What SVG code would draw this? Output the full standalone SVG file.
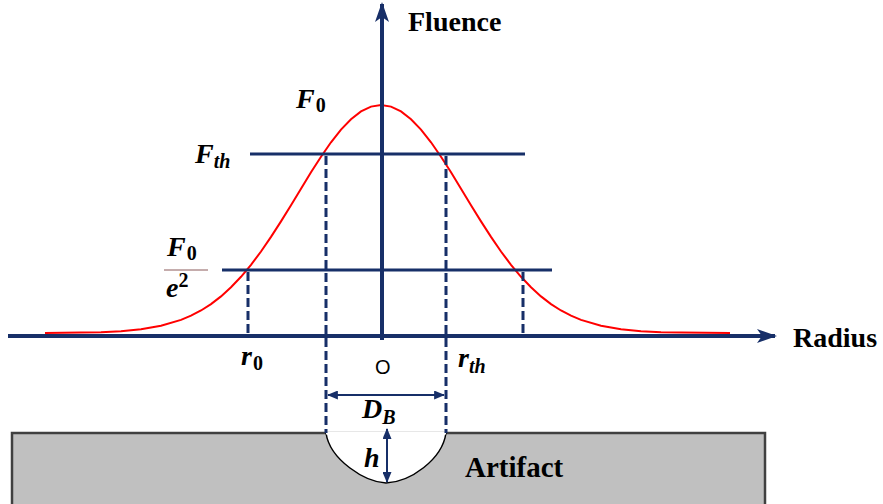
<svg xmlns="http://www.w3.org/2000/svg" width="883" height="504" viewBox="0 0 883 504">
<defs>
<marker id="bigArrow" viewBox="0 0 20 14" refX="18" refY="7" markerWidth="20" markerHeight="14" markerUnits="userSpaceOnUse" orient="auto">
<path d="M0,0 L20,7 L0,14 L5,7 Z" fill="#172f68"/>
</marker>
<marker id="smallArrow" viewBox="0 0 12 10" refX="11" refY="5" markerWidth="11" markerHeight="9" markerUnits="userSpaceOnUse" orient="auto-start-reverse">
<path d="M0,0 L12,5 L0,10 Z" fill="#172f68"/>
</marker>
<style>
.axis{stroke:#172f68;stroke-width:4;fill:none}
.level{stroke:#172f68;stroke-width:3;fill:none}
.dash{stroke:#172f68;stroke-width:3;stroke-dasharray:9,4;fill:none}
.dim{stroke:#172f68;stroke-width:2;fill:none}
.curve{stroke:#ff0000;stroke-width:2;fill:none}
.lbl{font-family:"Liberation Serif",serif;font-weight:bold;fill:#000}
.math{font-family:"Liberation Serif",serif;font-weight:bold;font-style:italic;fill:#000}
</style>
</defs>
<g id="artifact">
<rect x="12" y="433" width="753" height="80" fill="#c0c0c0" stroke="#404040" stroke-width="2.5"/>
<path d="M326,433 C330,460 365,482 386,483 C410,482 442,460 446,433 Z" fill="#ffffff" stroke="#000" stroke-width="1.5"/>
<path d="M326,433 L446,433" stroke="#ffffff" stroke-width="3"/>
<text class="lbl" x="465" y="477" font-size="29">Artifact</text>
</g>
<g id="gaussian">
<polyline class="curve" points="45,333 81,332.6 101,332.2 121,331.2 141,329.3 161,325.8 181,319.9 191,315.7 201,310.5 211,304.1 221,296.4 231,287.3 241,276.8 251,264.8 261,251.5 271,236.9 281,221.4 291,205.2 301,188.7 311,172.3 321,156.7 331,142.3 341,129.6 351,119.2 361,111.4 371,106.6 381,105 391,106.6 401,111.4 411,119.2 421,129.6 431,142.3 441,156.7 451,172.3 461,188.7 471,205.2 481,221.4 491,236.9 501,251.5 511,264.8 521,276.8 531,287.3 541,296.4 551,304.1 561,310.5 571,315.7 581,319.9 601,325.8 621,329.3 641,331.2 661,332.2 681,332.6 730,333"/>
</g>
<g id="connectors">
<line class="axis" x1="8" y1="336" x2="775" y2="336" marker-end="url(#bigArrow)"/>
<line class="axis" x1="382" y1="340" x2="382" y2="4" marker-end="url(#bigArrow)"/>
<line class="level" x1="250" y1="154" x2="525" y2="154"/>
<line class="level" x1="222" y1="270" x2="552" y2="270"/>
<line class="dash" x1="326" y1="156" x2="326" y2="433"/>
<line class="dash" x1="446" y1="156" x2="446" y2="433"/>
<line class="dash" x1="248" y1="272" x2="248" y2="334"/>
<line class="dash" x1="523" y1="272" x2="523" y2="334"/>
<line class="dim" x1="328" y1="395" x2="444" y2="395" marker-start="url(#smallArrow)" marker-end="url(#smallArrow)"/>
<line class="dim" x1="387" y1="429" x2="387" y2="482" marker-start="url(#smallArrow)" marker-end="url(#smallArrow)"/>
</g>
<g id="labels">
<text class="lbl" x="408" y="31" font-size="28">Fluence</text>
<text class="lbl" x="793" y="347" font-size="28">Radius</text>
<text x="375" y="374" font-family="Liberation Sans,sans-serif" font-size="20" fill="#000">O</text>
<text class="math" x="296" y="108" font-size="28">F<tspan font-size="20" font-style="normal" dx="1" dy="4">0</tspan></text>
<text class="math" x="195" y="163" font-size="28">F<tspan font-size="20" dy="5">th</tspan></text>
<text class="math" x="167" y="256" font-size="28">F<tspan font-size="20" font-style="normal" dx="1" dy="4">0</tspan></text>
<line x1="164" y1="270" x2="208" y2="270" stroke="#8b5a5a" stroke-width="1"/>
<text class="math" x="166" y="297" font-size="28">e<tspan font-size="20" font-style="normal" dy="-10">2</tspan></text>
<text class="math" x="241" y="365" font-size="28">r<tspan font-size="20" font-style="normal" dx="1" dy="5">0</tspan></text>
<text class="math" x="458" y="367" font-size="28">r<tspan font-size="20" dy="6">th</tspan></text>
<text class="math" x="362" y="418" font-size="28">D<tspan font-size="20" dy="6">B</tspan></text>
<text class="math" x="364" y="467" font-size="28">h</text>
</g>
</svg>
